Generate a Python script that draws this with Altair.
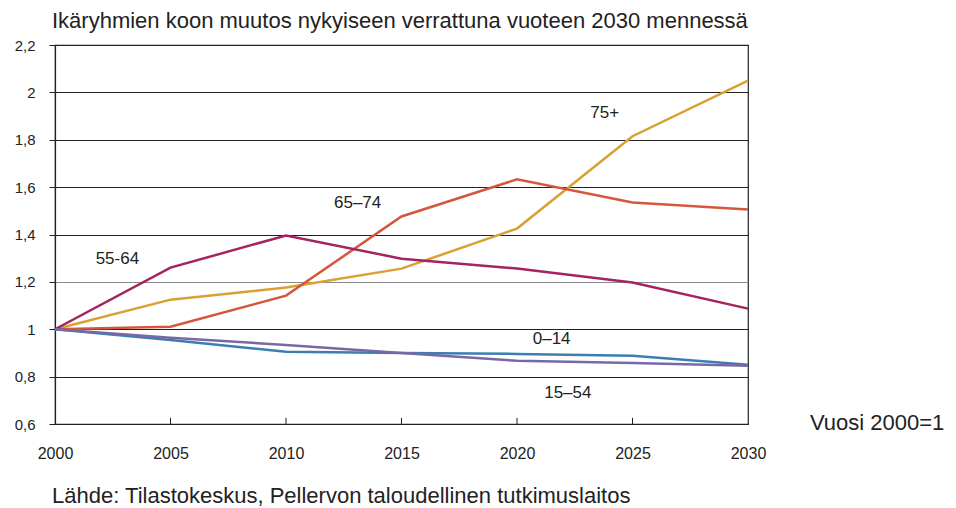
import altair as alt
import pandas as pd

years = [2000, 2005, 2010, 2015, 2020, 2025, 2030]
series_names = ["75+", "65–74", "55-64", "0–14", "15–54"]
v75 = [1.0, 1.125, 1.176, 1.256, 1.425, 1.815, 2.05]
v65 = [1.0, 1.011, 1.142, 1.476, 1.633, 1.535, 1.506]
v55 = [1.0, 1.26, 1.396, 1.298, 1.256, 1.197, 1.087]
v0 = [1.0, 0.955, 0.905, 0.90, 0.896, 0.888, 0.85]
v15 = [1.0, 0.964, 0.934, 0.90, 0.867, 0.858, 0.846]
colors = ["#D9A032", "#D4573C", "#A3245E", "#3B7EB3", "#7A67A6"]

label_x = [2023.8, 2013.1, 2002.7, 2021.5, 2022.2]
label_y = [1.912, 1.531, 1.298, 0.96, 0.731]

title_text = "Ikäryhmien koon muutos nykyiseen verrattuna vuoteen 2030 mennessä"
unit_text = "Vuosi 2000=1"
source_text = "Lähde: Tilastokeskus, Pellervon taloudellinen tutkimuslaitos"
tick_years = [2005, 2010, 2015, 2020, 2025]

FONT = "Liberation Sans"

rows = []
for name, vals in zip(series_names, [v75, v65, v55, v0, v15]):
    for yr, v in zip(years, vals):
        rows.append({"year": yr, "value": v, "group": name})
df = pd.DataFrame(rows)

labels_df = pd.DataFrame({"x": label_x, "y": label_y, "text": series_names})
ticks_df = pd.DataFrame({"year": tick_years, "y0": [0.6] * 5, "y1": [0.626] * 5})

xscale = alt.Scale(domain=[2000, 2030], nice=False, zero=False)
yscale = alt.Scale(domain=[0.6, 2.2], nice=False, zero=False)

lines = alt.Chart(df).mark_line(strokeWidth=2.5, clip=False).encode(
    x=alt.X("year:Q", scale=xscale, title=None,
            axis=alt.Axis(values=years, format="d", grid=False, tickSize=0,
                          labelPadding=21, labelFontSize=16, labelFont=FONT,
                          labelFlush=False, labelBound=False,
                          labelColor="#222", domainColor="#222", domainWidth=1)),
    y=alt.Y("value:Q", scale=yscale, title=None,
            axis=alt.Axis(values=[0.6, 0.8, 1.0, 1.2, 1.4, 1.6, 1.8, 2.0, 2.2],
                          labelExpr="replace(toString(round(datum.value*10)/10), '.', ',')",
                          grid=True,
                          gridColor=alt.condition("datum.value == 1.2", alt.value("#8a8a8a"), alt.value("#222")),
                          gridWidth=1.2, tickSize=6, tickColor="#222", labelPadding=14,
                          labelFlush=False, labelBound=False,
                          labelFontSize=15, labelFont=FONT, labelColor="#222",
                          domainColor="#222", domainWidth=1.2)),
    color=alt.Color("group:N", scale=alt.Scale(domain=series_names, range=colors), legend=None),
    detail="group:N",
)

xticks = alt.Chart(ticks_df).mark_rule(color="#222", strokeWidth=1).encode(
    x=alt.X("year:Q", scale=xscale),
    y=alt.Y("y0:Q", scale=yscale),
    y2="y1:Q",
)

labels = alt.Chart(labels_df).mark_text(font=FONT, fontSize=17, color="#222").encode(
    x=alt.X("x:Q", scale=xscale),
    y=alt.Y("y:Q", scale=yscale),
    text="text:N",
)

title = alt.Chart(pd.DataFrame({"t": [title_text]})).mark_text(
    font=FONT, fontSize=22, color="#222", align="left", baseline="alphabetic"
).encode(x=alt.value(-3), y=alt.value(-17), text="t:N")

unit = alt.Chart(pd.DataFrame({"t": [unit_text]})).mark_text(
    font=FONT, fontSize=22, color="#222", align="left", baseline="middle"
).encode(x=alt.value(755), y=alt.value(378), text="t:N")

source = alt.Chart(pd.DataFrame({"t": [source_text]})).mark_text(
    font=FONT, fontSize=22, color="#222", align="left", baseline="alphabetic"
).encode(x=alt.value(-3), y=alt.value(458), text="t:N")

chart = alt.layer(lines, xticks, labels, title, unit, source).properties(
    width=693,
    height=379,
    autosize=alt.AutoSizeParams(type="none"),
    padding={"left": 47, "top": 37, "right": 200, "bottom": 84},
).configure_view(stroke="#222", strokeWidth=1.2)

chart.save("out.html", embed_options={"renderer": "svg", "actions": False})
